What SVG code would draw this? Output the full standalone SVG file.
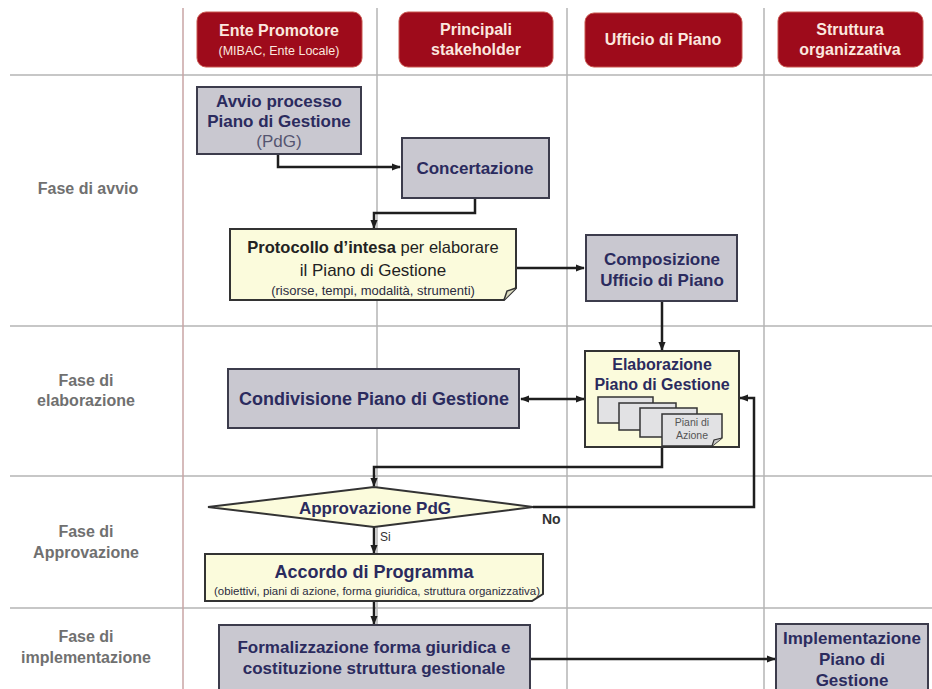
<svg xmlns="http://www.w3.org/2000/svg" width="932" height="689" viewBox="0 0 932 689">
<defs>
<style>
.grid{stroke:#b4b4b4;stroke-width:1.5;fill:none}
.gridr{stroke:#c9a4a4;stroke-width:1.5;fill:none}
.hdr{fill:#9e0b1b;stroke:#c9574f;stroke-width:1}
.ht{font-family:"Liberation Sans",Arial,sans-serif;font-weight:bold;font-size:16px;fill:#fbe7df;text-anchor:middle}
.hts{font-family:"Liberation Sans",Arial,sans-serif;font-size:12.5px;fill:#fbe7df;text-anchor:middle}
.phase{font-family:"Liberation Sans",Arial,sans-serif;font-weight:bold;font-size:16px;fill:#707070;text-anchor:middle}
.gray{fill:#c9c8d0;stroke:#3c3c4c;stroke-width:2}
.yel{fill:#fbfbdc;stroke:#333333;stroke-width:2}
.doc{fill:#e2e2e4;stroke:#333333;stroke-width:1.5}
.t{font-family:"Liberation Sans",Arial,sans-serif;font-weight:bold;font-size:17px;fill:#2b2b5e;text-anchor:middle}
.tn{font-family:"Liberation Sans",Arial,sans-serif;font-size:17px;fill:#2b2b5e;text-anchor:middle}
.ts{font-family:"Liberation Sans",Arial,sans-serif;font-size:13px;fill:#2b2b3e;text-anchor:middle}
.lbl{font-family:"Liberation Sans",Arial,sans-serif;font-size:14px;fill:#333;font-weight:bold}
.c{stroke:#1e1e1e;stroke-width:2.5;fill:none}
</style>
<marker id="ah" viewBox="0 0 10 10" refX="9" refY="5" markerWidth="9" markerHeight="9" markerUnits="userSpaceOnUse" orient="auto-start-reverse">
<path d="M0,1 L10,5 L0,9 z" fill="#1e1e1e"/>
</marker>
</defs>
<rect width="932" height="689" fill="#ffffff"/>
<g id="grid">
<line class="grid" x1="10" y1="75" x2="932" y2="75"/>
<line class="grid" x1="10" y1="326" x2="932" y2="326"/>
<line class="grid" x1="10" y1="476" x2="932" y2="476"/>
<line class="grid" x1="10" y1="608" x2="932" y2="608"/>
<line class="gridr" x1="183" y1="8" x2="183" y2="689"/>
<line class="grid" x1="377" y1="8" x2="377" y2="689"/>
<line class="grid" x1="567" y1="8" x2="567" y2="689"/>
<line class="grid" x1="764" y1="8" x2="764" y2="689"/>
</g>
<g id="headers">
<g id="h-ente"><rect class="hdr" x="197" y="12" width="165" height="55" rx="9"/><text class="ht" x="279" y="36">Ente Promotore</text><text class="hts" x="279" y="55">(MIBAC, Ente Locale)</text></g>
<g id="h-stake"><rect class="hdr" x="399" y="12" width="154" height="55" rx="9"/><text class="ht" x="476" y="35">Principali</text><text class="ht" x="476" y="55">stakeholder</text></g>
<g id="h-ufficio"><rect class="hdr" x="585" y="13" width="157" height="54" rx="9"/><text class="ht" x="663" y="45">Ufficio di Piano</text></g>
<g id="h-struttura"><rect class="hdr" x="778" y="12" width="145" height="55" rx="9"/><text class="ht" x="850" y="35">Struttura</text><text class="ht" x="850" y="55">organizzativa</text></g>
</g>
<g id="phases">
<text class="phase" x="88" y="194">Fase di avvio</text>
<text class="phase" x="86" y="386">Fase di</text><text class="phase" x="86" y="406">elaborazione</text>
<text class="phase" x="86" y="537">Fase di</text><text class="phase" x="86" y="558">Approvazione</text>
<text class="phase" x="86" y="642">Fase di</text><text class="phase" x="86" y="663">implementazione</text>
</g>
<g id="connectors">
<path class="c" d="M278,154 V167 H400" marker-end="url(#ah)"/>
<path class="c" d="M475,198 V213 H374 V228" marker-end="url(#ah)"/>
<path class="c" d="M516,268 H584" marker-end="url(#ah)"/>
<path class="c" d="M662,301 V350" marker-end="url(#ah)"/>
<path class="c" d="M521,399 H584" marker-start="url(#ah)" marker-end="url(#ah)"/>
<path class="c" d="M662,447 V467 H374 V486" marker-end="url(#ah)"/>
<path class="c" d="M533,507 H754 V398 H740" marker-end="url(#ah)"/>
<path class="c" d="M374,527 V553" marker-end="url(#ah)"/>
<path class="c" d="M374,601 V624" marker-end="url(#ah)"/>
<path class="c" d="M530,659 H775" marker-end="url(#ah)"/>
</g>
<g id="avvio"><rect class="gray" x="197" y="87" width="164" height="67"/><text class="t" x="279" y="107">Avvio processo</text><text class="t" x="279" y="127">Piano di Gestione</text><text class="tn" x="279" y="147" style="fill:#555570">(PdG)</text></g>
<g id="concertazione"><rect class="gray" x="402" y="138" width="147" height="60"/><text class="t" x="475" y="174">Concertazione</text></g>
<g id="protocollo"><path class="yel" d="M230,229 H516 V288 L504,300 H230 Z"/><path d="M504,300 L507,291 L516,288" fill="#dcdcc0" stroke="#333" stroke-width="1.5"/><text class="t" x="373" y="253" style="fill:#222;font-size:16.5px">Protocollo d’intesa<tspan style="font-weight:normal"> per elaborare</tspan></text><text class="tn" x="373" y="276" style="fill:#222">il Piano di Gestione</text><text class="ts" x="373" y="295">(risorse, tempi, modalità, strumenti)</text></g>
<g id="composizione"><rect class="gray" x="586" y="235" width="151" height="66"/><text class="t" x="662" y="265">Composizione</text><text class="t" x="662" y="286">Ufficio di Piano</text></g>
<g id="elaborazione"><rect class="yel" x="585" y="351" width="154" height="96"/><text class="t" x="662" y="370" style="font-size:16px">Elaborazione</text><text class="t" x="662" y="390" style="font-size:16px">Piano di Gestione</text>
<rect class="doc" x="598" y="397" width="55" height="26"/>
<rect class="doc" x="619" y="403" width="57" height="27"/>
<rect class="doc" x="640" y="408" width="57" height="29"/>
<path class="doc" d="M662,414 H722 V438 L712,446 H662 Z"/><path d="M712,446 L714,440 L722,438" fill="#c8c8c8" stroke="#333" stroke-width="1.2"/>
<text x="692" y="426" style="font-family:'Liberation Sans',Arial,sans-serif;font-size:10.5px;fill:#555;text-anchor:middle">Piani di</text>
<text x="692" y="439" style="font-family:'Liberation Sans',Arial,sans-serif;font-size:10.5px;fill:#555;text-anchor:middle">Azione</text></g>
<g id="condivisione"><rect class="gray" x="228" y="369" width="291" height="59"/><text class="t" x="374" y="405" style="font-size:18px">Condivisione Piano di Gestione</text></g>
<g id="approvazione"><polygon class="yel" points="208,507 374,487 533,507 374,527"/><text class="t" x="375" y="514">Approvazione PdG</text><text class="lbl" x="542" y="524">No</text><text class="lbl" x="380" y="541" style="font-size:12px;font-weight:normal">Si</text></g>
<g id="accordo"><path class="yel" d="M205,554 H543 V594 L532,601 H205 Z"/><text class="t" x="374" y="578" style="font-size:18px">Accordo di Programma</text><text class="ts" x="377" y="595" style="font-size:10px" textLength="326" lengthAdjust="spacingAndGlyphs">(obiettivi, piani di azione, forma giuridica, struttura organizzativa)</text></g>
<g id="formalizzazione"><rect class="gray" x="219" y="625" width="311" height="70"/><text class="t" x="374" y="653">Formalizzazione forma giuridica e</text><text class="t" x="374" y="674">costituzione struttura gestionale</text></g>
<g id="implementazione"><rect class="gray" x="776" y="624" width="152" height="70"/><text class="t" x="852" y="644">Implementazione</text><text class="t" x="852" y="665">Piano di</text><text class="t" x="852" y="686">Gestione</text></g>
</svg>
